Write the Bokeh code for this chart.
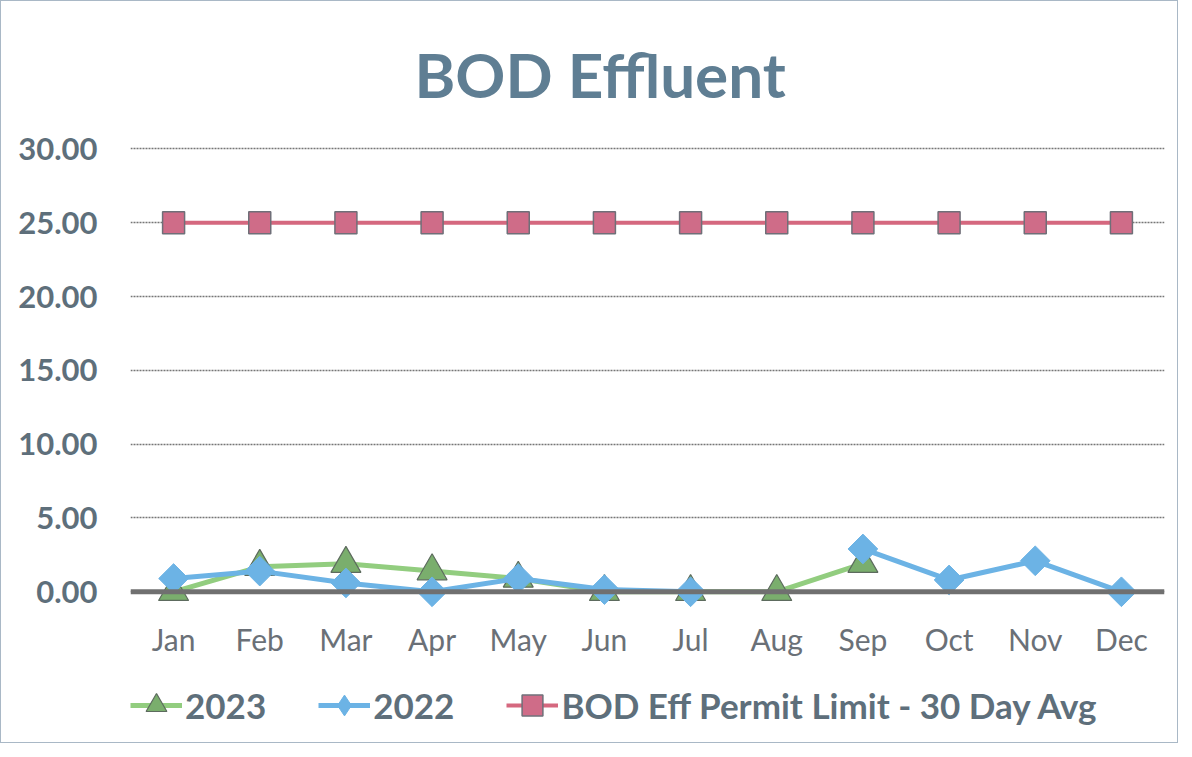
import math
from bokeh.plotting import figure
from bokeh.layouts import column
from bokeh.models import Range1d, FactorRange, Span, Legend, LegendItem, NumeralTickFormatter, FixedTicker, ColumnDataSource
from bokeh.embed import file_html
from bokeh.resources import INLINE

months = ["Jan", "Feb", "Mar", "Apr", "May", "Jun", "Jul", "Aug", "Sep", "Oct", "Nov", "Dec"]
months_2023 = ["Jan", "Feb", "Mar", "Apr", "May", "Jun", "Jul", "Aug", "Sep"]
bod_2023 = [0.0, 1.7, 1.9, 1.4, 0.9, 0.0, 0.0, 0.0, 1.9]
months_2022 = ["Jan", "Feb", "Mar", "Apr", "May", "Jun", "Jul", "Sep", "Oct", "Nov", "Dec"]
bod_2022 = [0.9, 1.4, 0.6, 0.0, 0.9, 0.15, 0.0, 2.9, 0.8, 2.1, 0.0]
permit_limit = [25.0] * 12
y_ticks = [0, 5, 10, 15, 20, 25, 30]

FONT = "Lato"
GREEN_LINE, GREEN_FILL, GREEN_EDGE = "#92cd7f", "#7aae6d", "#5d6b5e"
BLUE = "#6cb3e5"
PINK_LINE, PINK_FILL, PINK_EDGE = "#d5687f", "#cf6c88", "#6f6f78"


def draw_series(fig, legend_keys=False):
    kw23 = dict(marker="triangle", fill_color=GREEN_FILL, line_color=GREEN_EDGE, line_width=1.2)
    kwp = dict(marker="square", fill_color=PINK_FILL, line_color=PINK_EDGE, line_width=1.5)
    if legend_keys:
        kw22 = dict(marker="diamond", fill_color=BLUE, line_color=BLUE, line_width=1)
    else:
        kw22 = dict(marker="square", angle=math.pi / 4, size=21, fill_color=BLUE, line_color=BLUE, line_width=1)
        kw23["size"], kwp["size"] = 30, 22
    rp = [fig.line(months, permit_limit, line_color=PINK_LINE, line_width=4),
          fig.scatter(months, permit_limit, **kwp)]
    r23 = [fig.line(months_2023, bod_2023, line_color=GREEN_LINE, line_width=5),
           fig.scatter(months_2023, bod_2023, **kw23)]
    src22 = ColumnDataSource(dict(x=months_2022, y=bod_2022))
    r22 = [fig.line(months_2022[:7], bod_2022[:7], line_color=BLUE, line_width=5),
           fig.line(months_2022[7:], bod_2022[7:], line_color=BLUE, line_width=5),
           fig.scatter("x", "y", source=src22, **kw22)]
    return r23, r22, rp


p = figure(width=1176, height=670, x_range=FactorRange(*months, range_padding=0),
           y_range=Range1d(-1.2, 30.5), output_backend="svg", toolbar_location=None,
           min_border_left=129, min_border_right=13, min_border_bottom=62, min_border_top=140)

p.title.text = "BOD Effluent"
p.title.align = "left"
p.title.offset = 284
p.title.text_font = FONT
p.title.text_font_size = "62px"
p.title.text_font_style = "bold"
p.title.text_color = "#5f7e93"
p.title.standoff = 62

p.outline_line_color = None
p.background_fill_color = "white"
p.border_fill_color = "white"

p.xgrid.grid_line_color = None
p.ygrid.grid_line_color = "#767676"
p.ygrid.grid_line_width = 1.3
p.ygrid.grid_line_dash = "2 1"

p.yaxis.ticker = FixedTicker(ticks=y_ticks)
p.yaxis.formatter = NumeralTickFormatter(format="0.00")
p.yaxis.axis_line_color = None
p.yaxis.major_tick_line_color = None
p.yaxis.minor_tick_line_color = None
p.yaxis.major_label_text_font = FONT
p.yaxis.major_label_text_font_size = "31px"
p.yaxis.major_label_text_font_style = "bold"
p.yaxis.major_label_text_color = "#5e6f7b"
p.yaxis.major_label_standoff = 27

p.xaxis.axis_line_color = None
p.xaxis.major_tick_line_color = None
p.xaxis.major_label_text_font = FONT
p.xaxis.major_label_text_font_size = "30px"
p.xaxis.major_label_text_color = "#6a7077"
p.xaxis.major_label_standoff = 5

zero = Span(location=0, dimension="width", line_color="#707070", line_width=5)
p.add_layout(zero)

draw_series(p)

# legend strip: same series, drawn outside its visible range, only used for the legend keys
lg = figure(width=1176, height=71, output_backend="svg", toolbar_location=None,
            x_axis_type=None, y_axis_type=None, min_border=0,
            x_range=FactorRange(*months), y_range=Range1d(100, 101))
lg.outline_line_color = None
lg.xgrid.grid_line_color = None
lg.ygrid.grid_line_color = None
l23, l22, lp = draw_series(lg, legend_keys=True)

legend = Legend(items=[
    LegendItem(label="2023", renderers=[l23[0], l23[1]]),
    LegendItem(label="2022", renderers=[l22[0], l22[2]]),
    LegendItem(label="BOD Eff Permit Limit - 30 Day Avg", renderers=[lp[0], lp[1]]),
], orientation="horizontal", location=(0, 7))
legend.label_text_font = FONT
legend.label_text_font_size = "35px"
legend.label_text_font_style = "bold"
legend.label_text_color = "#5e6f7b"
legend.glyph_width = 52
legend.glyph_height = 60
legend.spacing = 52
legend.label_standoff = 3
legend.border_line_color = None
legend.background_fill_alpha = 0
legend.margin = 0
legend.padding = 0
lg.add_layout(legend)

layout = column(p, lg, spacing=0)
layout.styles = {"border": "1px solid #a9b8c6"}

open("out.html", "w").write(file_html(layout, INLINE))
